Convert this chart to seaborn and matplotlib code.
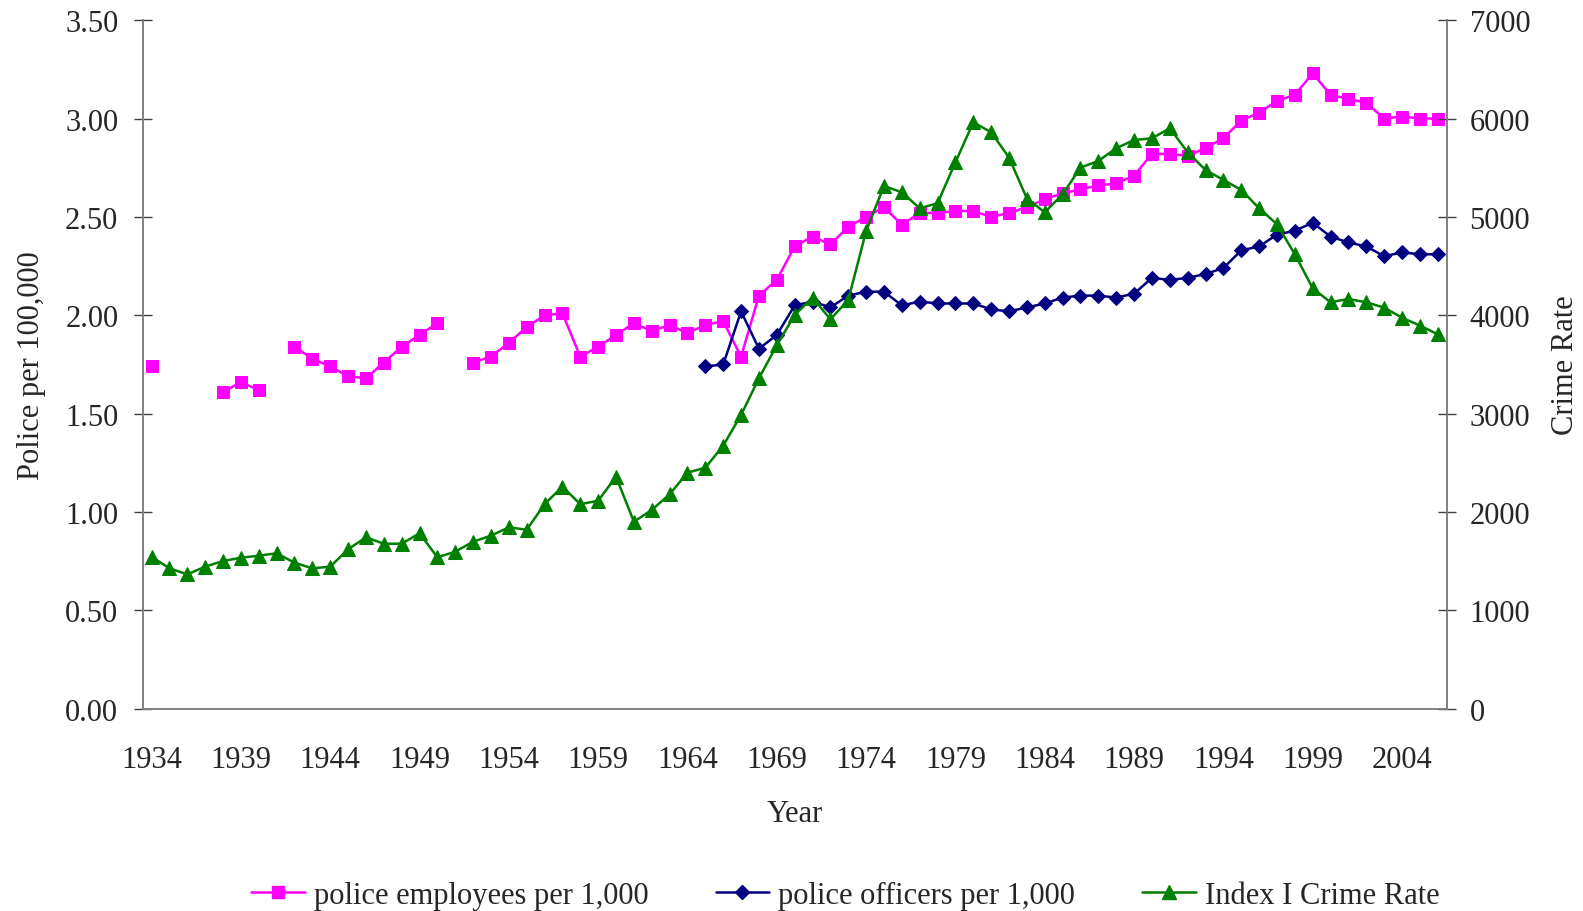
import numpy as np
import pandas as pd
import matplotlib
matplotlib.use("Agg")
import matplotlib.pyplot as plt
from matplotlib.lines import Line2D
import seaborn as sns

nan = np.nan

# categories
years = list(range(1934, 2007))
label_years = list(range(1934, 2007, 5))

# police employees per 1,000 (left axis)
employees = [
    1.74, nan, nan, nan, 1.61, 1.66, 1.62, nan, 1.84, 1.78,
    1.74, 1.69, 1.68, 1.76, 1.84, 1.90, 1.96, nan, 1.76, 1.79,
    1.86, 1.94, 2.00, 2.01, 1.79, 1.84, 1.90, 1.96, 1.92, 1.95,
    1.91, 1.95, 1.97, 1.79, 2.10, 2.18, 2.35, 2.40, 2.36, 2.45,
    2.50, 2.55, 2.46, 2.52, 2.52, 2.53, 2.53, 2.50, 2.52, 2.55,
    2.59, 2.62, 2.64, 2.66, 2.67, 2.71, 2.82, 2.82, 2.81, 2.85,
    2.90, 2.99, 3.03, 3.09, 3.12, 3.23, 3.12, 3.10, 3.08, 3.00,
    3.01, 3.00, 3.00,
]

# police officers per 1,000 (left axis), starts 1965
officers = [nan] * 31 + [
    1.74, 1.75, 2.02, 1.83, 1.90, 2.05, 2.07, 2.04, 2.10, 2.12,
    2.12, 2.05, 2.07, 2.06, 2.06, 2.06, 2.03, 2.02, 2.04, 2.06,
    2.09, 2.10, 2.10, 2.09, 2.11, 2.19, 2.18, 2.19, 2.21, 2.24,
    2.33, 2.35, 2.41, 2.43, 2.47, 2.40, 2.37, 2.35, 2.30, 2.32,
    2.31, 2.31,
]

# Index I crime rate (right axis)
crime = [
    1546, 1428, 1367, 1445, 1502, 1536, 1556, 1581, 1485, 1428,
    1445, 1621, 1743, 1678, 1678, 1784, 1540, 1597, 1699, 1760,
    1845, 1820, 2080, 2258, 2080, 2115, 2360, 1902, 2021, 2181,
    2400, 2451, 2675, 2987, 3360, 3695, 4003, 4180, 3959, 4156,
    4857, 5315, 5250, 5088, 5139, 5555, 5962, 5861, 5603, 5187,
    5047, 5230, 5501, 5569, 5698, 5782, 5799, 5901, 5657, 5477,
    5376, 5274, 5088, 4925, 4620, 4275, 4132, 4166, 4132, 4078,
    3976, 3895, 3807,
]

labels = ["police employees per 1,000", "police officers per 1,000", "Index I Crime Rate"]
colors = ["#FF00FF", "#000080", "#008000"]
markers = ["s", "D", "^"]
msizes = [9, 7, 10]

sns.set_style("white")
plt.rcParams["font.family"] = ["Liberation Serif", "DejaVu Serif"]
FS = 22


def with_segments(vals):
    # split the series at gaps so lines are not drawn across missing years
    df = pd.DataFrame({"year": years, "value": vals})
    df["seg"] = df["value"].isna().cumsum()
    return df.dropna()


fig = plt.figure(figsize=(15.83, 9.12), dpi=100)
ax = fig.add_axes([0.0901, 0.2217, 0.8238, 0.7551])
ax2 = ax.twinx()

for vals, col, mk, ms, a in [
    (employees, colors[0], markers[0], msizes[0], ax),
    (officers, colors[1], markers[1], msizes[1], ax),
    (crime, colors[2], markers[2], msizes[2], ax2),
]:
    sns.lineplot(
        data=with_segments(vals), x="year", y="value", units="seg", estimator=None,
        color=col, marker=mk, markersize=ms, markeredgecolor=col, linewidth=1.8,
        ax=a, legend=False,
    )

ax.set_xlim(1933.5, 2006.5)
ax.set_ylim(0, 3.5)
ax2.set_ylim(0, 7000)

ax.set_yticks(np.arange(0, 3.51, 0.5))
ax.set_yticklabels([f"{v:.2f}" for v in np.arange(0, 3.51, 0.5)])
ax2.set_yticks(range(0, 7001, 1000))

ax.set_xticks(label_years)
ax.set_xticklabels([str(y) for y in label_years])
ax.set_xticks(np.arange(1933.5, 2007, 1), minor=True)

ax.tick_params(axis="x", which="major", length=0, pad=26, labelsize=FS)
ax.tick_params(axis="x", which="minor", direction="inout", length=13, width=1, color="#404040")
ax.tick_params(axis="y", direction="inout", length=13, width=1, pad=11, labelsize=FS, color="#404040")
ax2.tick_params(axis="y", direction="inout", length=13, width=1, pad=10, labelsize=FS, color="#404040")

for a in (ax, ax2):
    a.grid(False)
    a.spines["top"].set_visible(False)
    for s in ("left", "right", "bottom"):
        a.spines[s].set_color("#808080")
        a.spines[s].set_linewidth(1.2)
    a.patch.set_alpha(0)

ax.set_xlabel("Year", fontsize=FS, labelpad=18)
ax.set_ylabel("Police per 100,000", fontsize=FS, labelpad=14)
ax2.set_ylabel("Crime Rate", fontsize=FS, labelpad=15)
ax2.set_xlabel("")

handles = [
    Line2D([], [], color=c, marker=m, markersize=s, markeredgecolor=c, linewidth=1.8)
    for c, m, s in zip(colors, markers, msizes)
]
fig.legend(
    handles, labels, loc="center", bbox_to_anchor=(0.534, 1 - 896 / 912), ncol=3,
    frameon=False, fontsize=FS, handlelength=1.75, handletextpad=0.3, columnspacing=2.2,
)

fig.savefig("out.png", dpi=100)
